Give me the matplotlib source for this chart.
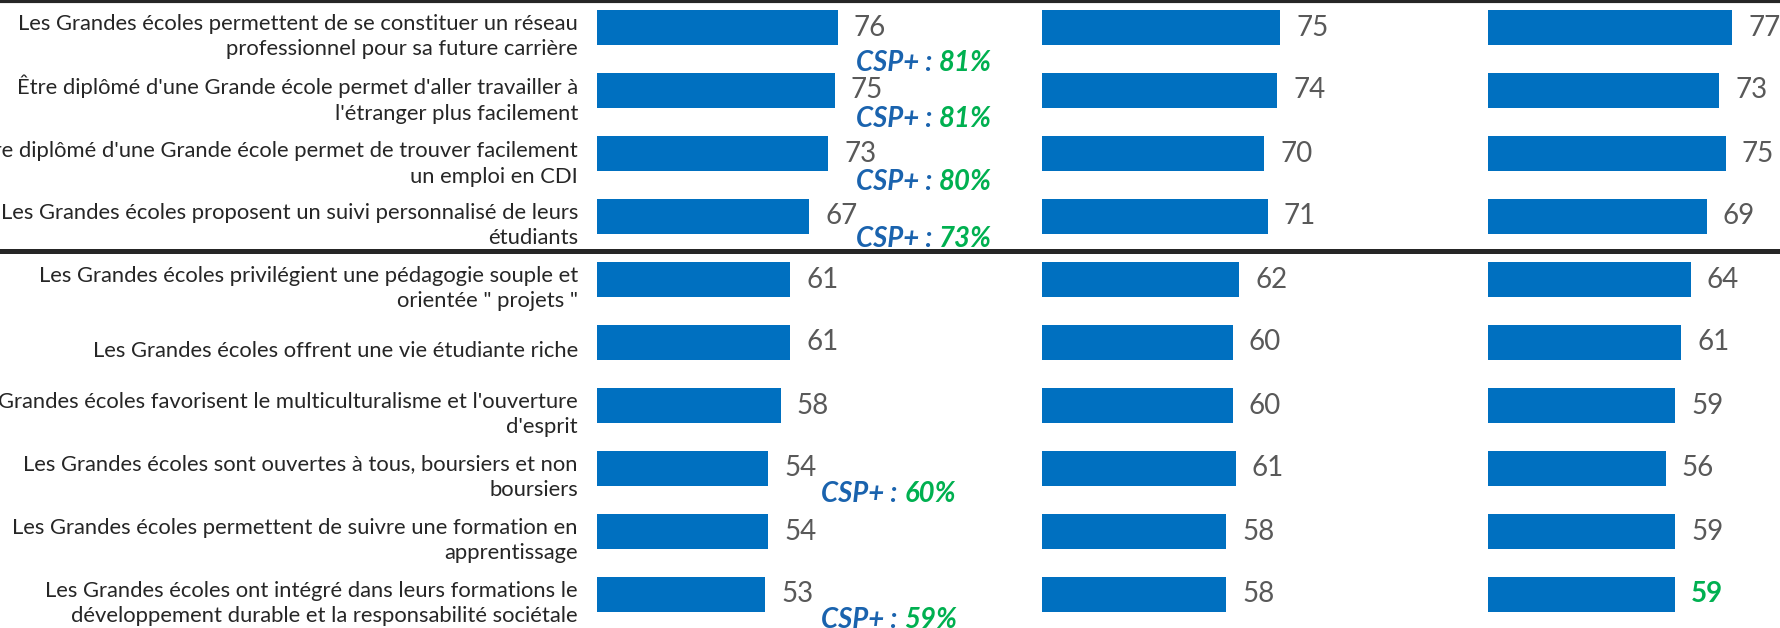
import matplotlib
matplotlib.use("Agg")
import matplotlib.pyplot as plt
from matplotlib import font_manager
from matplotlib.lines import Line2D
from matplotlib.transforms import blended_transform_factory

etiquettes = [
    "Les Grandes écoles permettent de se constituer un réseau\nprofessionnel pour sa future carrière",
    "Être diplômé d'une Grande école permet d'aller travailler à\nl'étranger plus facilement",
    "Être diplômé d'une Grande école permet de trouver facilement\nun emploi en CDI",
    "Les Grandes écoles proposent un suivi personnalisé de leurs\nétudiants",
    "Les Grandes écoles privilégient une pédagogie souple et\norientée \" projets \"",
    "Les Grandes écoles offrent une vie étudiante riche",
    "Les Grandes écoles favorisent le multiculturalisme et l'ouverture\nd'esprit",
    "Les Grandes écoles sont ouvertes à tous, boursiers et non\nboursiers",
    "Les Grandes écoles permettent de suivre une formation en\napprentissage",
    "Les Grandes écoles ont intégré dans leurs formations le\ndéveloppement durable et la responsabilité sociétale",
]
serie1 = [76, 75, 73, 67, 61, 61, 58, 54, 54, 53]
serie2 = [75, 74, 70, 71, 62, 60, 60, 61, 58, 58]
serie3 = [77, 73, 75, 69, 64, 61, 59, 56, 59, 59]

# annotations CSP+ (ligne, valeur)
csp_lignes = [0, 1, 2, 3, 7, 9]
csp_valeurs = [81, 81, 80, 73, 60, 59]

BLEU = "#0070C0"
GRIS = "#595959"
VERT = "#00B050"
BLEU_CSP = "#1A63AE"

noms = {f.name for f in font_manager.fontManager.ttflist}
police = "Lato" if "Lato" in noms else "DejaVu Sans"

W, H = 1781, 628
fig = plt.figure(figsize=(W / 100, H / 100), dpi=100)

pas = 63.0
haut = -27.5 / pas
bas = (H - 27.5) / pas
echelle = 3.17  # px par point de %


def panneau(x0):
    ax = fig.add_axes([x0 / W, 0, 100 * echelle / W, 1])
    ax.set_xlim(0, 100)
    ax.set_ylim(bas, haut)
    ax.axis("off")
    return ax


ax1 = panneau(597)
ax2 = panneau(1042.5)
ax3 = panneau(1488)

y = list(range(len(serie1)))

for ax, serie in [(ax1, serie1), (ax2, serie2), (ax3, serie3)]:
    ax.barh(y, serie, height=35 / pas, color=BLEU)
    for i, v in enumerate(serie):
        derniere = ax is ax3 and i == len(serie) - 1
        ax.annotate(str(v), (v, i), xytext=(11.5, 0), textcoords="offset points",
                    va="center", ha="left", fontsize=20, family=police,
                    color=VERT if derniere else GRIS,
                    fontweight="bold" if derniere else "normal")

# libellés à gauche
trans = blended_transform_factory(fig.transFigure, ax1.transData)
for i, lab in enumerate(etiquettes):
    ax1.text(578 / W, i + 0.14, lab, transform=trans, ha="right", va="center",
             fontsize=15.8, color="#262626", family=police, linespacing=1.35)

# CSP+ (décalage de la ligne de base sous la barre)
decal = {0: 0.686, 1: 0.578, 2: 0.583, 3: 0.487, 7: 0.535, 9: 0.524}
for r, v in zip(csp_lignes, csp_valeurs):
    x = (856 - 597) / echelle if r < 4 else (821 - 597) / echelle
    t = ax1.text(x, r + decal[r], "CSP+ :", ha="left", va="baseline",
                 fontsize=19.8, color=BLEU_CSP, family=police,
                 fontweight="bold", fontstyle="italic")
    ax1.annotate(f"{v}%", xy=(1, 0), xycoords=t, xytext=(5, 0),
                 textcoords="offset points", ha="left", va="bottom",
                 fontsize=19.8, color=VERT, family=police,
                 fontweight="bold", fontstyle="italic")

# traits horizontaux
fig.add_artist(Line2D([0, 1], [1 - 1 / H, 1 - 1 / H], color="#262626", lw=3, zorder=5))
fig.add_artist(Line2D([0, 1], [1 - 250.8 / H, 1 - 250.8 / H], color="#262626", lw=3.6, zorder=5))

fig.savefig("out.png", dpi=100)
